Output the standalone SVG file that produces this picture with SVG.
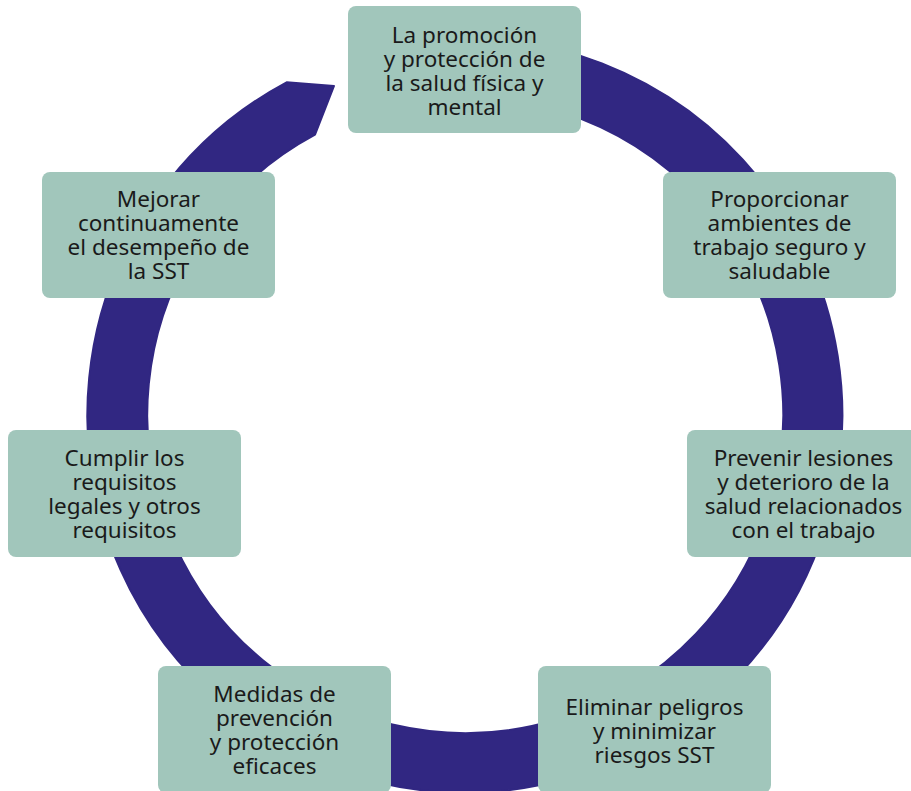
<svg xmlns="http://www.w3.org/2000/svg" width="911" height="791" viewBox="0 0 911 791">
  <style>
    .box { fill: #a1c6bb; }
    .lbl { font-family: "Noto Sans", "Open Sans", "Liberation Sans", sans-serif; font-size: 22.5px; fill: #1a1a1a; text-anchor: middle; }
    .ring { fill: #312782; stroke: #312782; stroke-width: 2; stroke-linejoin: round; }
  </style>
  <rect width="911" height="791" fill="#ffffff"/>
  <g id="connectors">
    <path class="ring" d="M 432,39 A 377.5 377.5 0 1 1 286.6,82.3 L 334,86 L 315,134.7 A 318 318 0 1 0 437.3,98.2 Z"/>
  </g>
  <g id="n1">
    <rect class="box" x="348" y="6" width="233" height="127" rx="8"/>
    <text class="lbl" x="464.5" y="43">La promoción</text>
    <text class="lbl" x="464.5" y="67">y protección de</text>
    <text class="lbl" x="464.5" y="91">la salud física y</text>
    <text class="lbl" x="464.5" y="115">mental</text>
  </g>
  <g id="n2">
    <rect class="box" x="663" y="172" width="233" height="126" rx="8"/>
    <text class="lbl" x="779.5" y="207">Proporcionar</text>
    <text class="lbl" x="779.5" y="231">ambientes de</text>
    <text class="lbl" x="779.5" y="255">trabajo seguro y</text>
    <text class="lbl" x="779.5" y="279">saludable</text>
  </g>
  <g id="n3">
    <rect class="box" x="687" y="430" width="233" height="127" rx="8"/>
    <text class="lbl" x="803.5" y="466">Prevenir lesiones</text>
    <text class="lbl" x="803.5" y="490">y deterioro de la</text>
    <text class="lbl" x="803.5" y="514">salud relacionados</text>
    <text class="lbl" x="803.5" y="538">con el trabajo</text>
  </g>
  <g id="n4">
    <rect class="box" x="538" y="666" width="233" height="127" rx="8"/>
    <text class="lbl" x="654.5" y="715">Eliminar peligros</text>
    <text class="lbl" x="654.5" y="739">y minimizar</text>
    <text class="lbl" x="654.5" y="763">riesgos SST</text>
  </g>
  <g id="n5">
    <rect class="box" x="158" y="666" width="233" height="127" rx="8"/>
    <text class="lbl" x="274.5" y="702">Medidas de</text>
    <text class="lbl" x="274.5" y="726">prevención</text>
    <text class="lbl" x="274.5" y="750">y protección</text>
    <text class="lbl" x="274.5" y="774">eficaces</text>
  </g>
  <g id="n6">
    <rect class="box" x="8" y="430" width="233" height="127" rx="8"/>
    <text class="lbl" x="124.5" y="466">Cumplir los</text>
    <text class="lbl" x="124.5" y="490">requisitos</text>
    <text class="lbl" x="124.5" y="514">legales y otros</text>
    <text class="lbl" x="124.5" y="538">requisitos</text>
  </g>
  <g id="n7">
    <rect class="box" x="42" y="172" width="233" height="126" rx="8"/>
    <text class="lbl" x="158.5" y="207">Mejorar</text>
    <text class="lbl" x="158.5" y="231">continuamente</text>
    <text class="lbl" x="158.5" y="255">el desempeño de</text>
    <text class="lbl" x="158.5" y="279">la SST</text>
  </g>
</svg>
